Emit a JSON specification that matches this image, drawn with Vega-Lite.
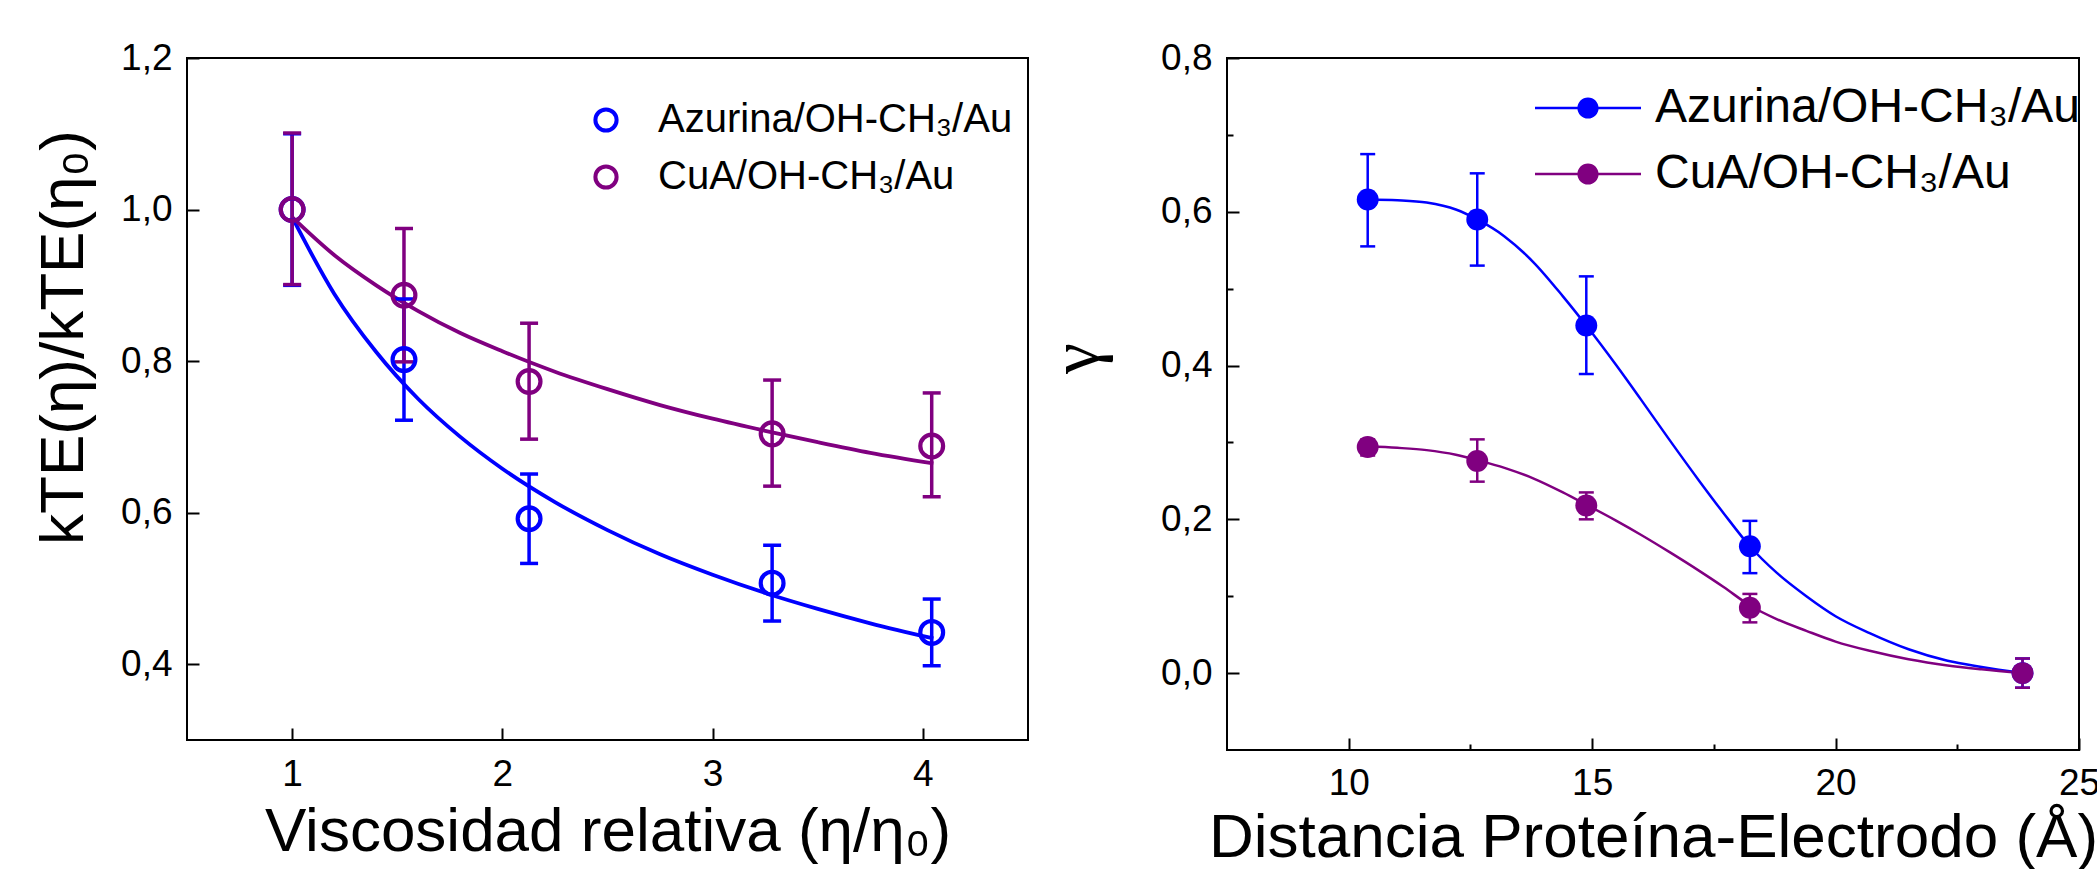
{
  "$schema": "https://vega.github.io/schema/vega-lite/v6.json",
  "background": "white",
  "padding": {"left": 30, "top": 38, "right": 0, "bottom": 0},
  "spacing": 11,
  "config": {
    "font": "Liberation Sans",
    "view": {"stroke": "black", "strokeWidth": 2},
    "axis": {
      "grid": false, "domain": false, "labelFont": "Liberation Sans", "titleFont": "Liberation Sans",
      "labelColor": "black", "titleColor": "black", "tickColor": "black", "tickWidth": 2,
      "labelFlush": false, "labelOverlap": false, "titleFontWeight": "normal", "labelFontSize": 37, "titleFontSize": 62
    },
    "legend": {"labelFont": "Liberation Sans", "labelColor": "black", "padding": 0, "labelLimit": 700, "title": null}
  },
  "resolve": {"scale": {"color": "independent"}, "legend": {"color": "independent"}},
  "datasets": {
    "ptsL": [
      {"serie": "Azurina/OH-CH₃/Au", "x": 1.0, "y": 1.0, "lo": 0.9, "hi": 1.1},
      {"serie": "Azurina/OH-CH₃/Au", "x": 1.532, "y": 0.802, "lo": 0.722, "hi": 0.882},
      {"serie": "Azurina/OH-CH₃/Au", "x": 2.127, "y": 0.592, "lo": 0.533, "hi": 0.651},
      {"serie": "Azurina/OH-CH₃/Au", "x": 3.283, "y": 0.507, "lo": 0.457, "hi": 0.557},
      {"serie": "Azurina/OH-CH₃/Au", "x": 4.042, "y": 0.442, "lo": 0.398, "hi": 0.486},
      {"serie": "CuA/OH-CH₃/Au", "x": 1.0, "y": 1.0, "lo": 0.901, "hi": 1.101},
      {"serie": "CuA/OH-CH₃/Au", "x": 1.532, "y": 0.887, "lo": 0.799, "hi": 0.975},
      {"serie": "CuA/OH-CH₃/Au", "x": 2.127, "y": 0.773, "lo": 0.697, "hi": 0.85},
      {"serie": "CuA/OH-CH₃/Au", "x": 3.283, "y": 0.704, "lo": 0.635, "hi": 0.775},
      {"serie": "CuA/OH-CH₃/Au", "x": 4.042, "y": 0.688, "lo": 0.621, "hi": 0.758}
    ],
    "fitL": [
      {"serie": "Azurina/OH-CH₃/Au", "x": 1.0, "y": 0.99},
      {"serie": "Azurina/OH-CH₃/Au", "x": 1.2, "y": 0.889},
      {"serie": "Azurina/OH-CH₃/Au", "x": 1.4, "y": 0.812},
      {"serie": "Azurina/OH-CH₃/Au", "x": 1.6, "y": 0.75},
      {"serie": "Azurina/OH-CH₃/Au", "x": 1.8, "y": 0.7},
      {"serie": "Azurina/OH-CH₃/Au", "x": 2.0, "y": 0.658},
      {"serie": "Azurina/OH-CH₃/Au", "x": 2.25, "y": 0.614},
      {"serie": "Azurina/OH-CH₃/Au", "x": 2.5, "y": 0.577},
      {"serie": "Azurina/OH-CH₃/Au", "x": 2.75, "y": 0.545},
      {"serie": "Azurina/OH-CH₃/Au", "x": 3.0, "y": 0.518},
      {"serie": "Azurina/OH-CH₃/Au", "x": 3.25, "y": 0.494},
      {"serie": "Azurina/OH-CH₃/Au", "x": 3.5, "y": 0.473},
      {"serie": "Azurina/OH-CH₃/Au", "x": 3.75, "y": 0.454},
      {"serie": "Azurina/OH-CH₃/Au", "x": 4.05, "y": 0.434},
      {"serie": "CuA/OH-CH₃/Au", "x": 1.0, "y": 0.99},
      {"serie": "CuA/OH-CH₃/Au", "x": 1.2, "y": 0.94},
      {"serie": "CuA/OH-CH₃/Au", "x": 1.4, "y": 0.9},
      {"serie": "CuA/OH-CH₃/Au", "x": 1.6, "y": 0.866},
      {"serie": "CuA/OH-CH₃/Au", "x": 1.8, "y": 0.837},
      {"serie": "CuA/OH-CH₃/Au", "x": 2.0, "y": 0.813},
      {"serie": "CuA/OH-CH₃/Au", "x": 2.25, "y": 0.786},
      {"serie": "CuA/OH-CH₃/Au", "x": 2.5, "y": 0.763},
      {"serie": "CuA/OH-CH₃/Au", "x": 2.75, "y": 0.742},
      {"serie": "CuA/OH-CH₃/Au", "x": 3.0, "y": 0.724},
      {"serie": "CuA/OH-CH₃/Au", "x": 3.25, "y": 0.708},
      {"serie": "CuA/OH-CH₃/Au", "x": 3.5, "y": 0.693},
      {"serie": "CuA/OH-CH₃/Au", "x": 3.75, "y": 0.679},
      {"serie": "CuA/OH-CH₃/Au", "x": 4.05, "y": 0.665}
    ],
    "ptsR": [
      {"serie": "Azurina/OH-CH₃/Au", "x": 10.39, "y": 0.616, "lo": 0.555, "hi": 0.675},
      {"serie": "Azurina/OH-CH₃/Au", "x": 12.64, "y": 0.59, "lo": 0.53, "hi": 0.65},
      {"serie": "Azurina/OH-CH₃/Au", "x": 14.88, "y": 0.452, "lo": 0.389, "hi": 0.516},
      {"serie": "Azurina/OH-CH₃/Au", "x": 18.24, "y": 0.165, "lo": 0.13, "hi": 0.198},
      {"serie": "Azurina/OH-CH₃/Au", "x": 23.84, "y": 0.0, "lo": -0.019, "hi": 0.019},
      {"serie": "CuA/OH-CH₃/Au", "x": 10.39, "y": 0.294, "lo": 0.283, "hi": 0.304},
      {"serie": "CuA/OH-CH₃/Au", "x": 12.64, "y": 0.276, "lo": 0.249, "hi": 0.304},
      {"serie": "CuA/OH-CH₃/Au", "x": 14.88, "y": 0.218, "lo": 0.2, "hi": 0.235},
      {"serie": "CuA/OH-CH₃/Au", "x": 18.24, "y": 0.085, "lo": 0.066, "hi": 0.103},
      {"serie": "CuA/OH-CH₃/Au", "x": 23.84, "y": 0.0, "lo": -0.019, "hi": 0.019}
    ],
    "fitR": [
      {"serie": "Azurina/OH-CH₃/Au", "x": 10.39, "y": 0.616},
      {"serie": "Azurina/OH-CH₃/Au", "x": 11.0, "y": 0.615},
      {"serie": "Azurina/OH-CH₃/Au", "x": 11.6, "y": 0.612},
      {"serie": "Azurina/OH-CH₃/Au", "x": 12.2, "y": 0.603},
      {"serie": "Azurina/OH-CH₃/Au", "x": 12.64, "y": 0.59},
      {"serie": "Azurina/OH-CH₃/Au", "x": 13.2, "y": 0.568},
      {"serie": "Azurina/OH-CH₃/Au", "x": 13.8, "y": 0.534},
      {"serie": "Azurina/OH-CH₃/Au", "x": 14.4, "y": 0.49},
      {"serie": "Azurina/OH-CH₃/Au", "x": 14.88, "y": 0.452},
      {"serie": "Azurina/OH-CH₃/Au", "x": 15.5, "y": 0.4},
      {"serie": "Azurina/OH-CH₃/Au", "x": 16.0, "y": 0.356},
      {"serie": "Azurina/OH-CH₃/Au", "x": 16.57, "y": 0.305},
      {"serie": "Azurina/OH-CH₃/Au", "x": 17.2, "y": 0.25},
      {"serie": "Azurina/OH-CH₃/Au", "x": 17.7, "y": 0.208},
      {"serie": "Azurina/OH-CH₃/Au", "x": 18.24, "y": 0.165},
      {"serie": "Azurina/OH-CH₃/Au", "x": 18.8, "y": 0.13},
      {"serie": "Azurina/OH-CH₃/Au", "x": 19.4, "y": 0.1},
      {"serie": "Azurina/OH-CH₃/Au", "x": 20.0, "y": 0.074},
      {"serie": "Azurina/OH-CH₃/Au", "x": 20.7, "y": 0.052},
      {"serie": "Azurina/OH-CH₃/Au", "x": 21.5, "y": 0.031},
      {"serie": "Azurina/OH-CH₃/Au", "x": 22.3, "y": 0.016},
      {"serie": "Azurina/OH-CH₃/Au", "x": 23.0, "y": 0.008},
      {"serie": "Azurina/OH-CH₃/Au", "x": 23.84, "y": 0.0},
      {"serie": "CuA/OH-CH₃/Au", "x": 10.39, "y": 0.295},
      {"serie": "CuA/OH-CH₃/Au", "x": 11.0, "y": 0.293},
      {"serie": "CuA/OH-CH₃/Au", "x": 11.6, "y": 0.29},
      {"serie": "CuA/OH-CH₃/Au", "x": 12.2, "y": 0.284},
      {"serie": "CuA/OH-CH₃/Au", "x": 12.64, "y": 0.277},
      {"serie": "CuA/OH-CH₃/Au", "x": 13.2, "y": 0.267},
      {"serie": "CuA/OH-CH₃/Au", "x": 13.8, "y": 0.253},
      {"serie": "CuA/OH-CH₃/Au", "x": 14.4, "y": 0.235},
      {"serie": "CuA/OH-CH₃/Au", "x": 14.88, "y": 0.219},
      {"serie": "CuA/OH-CH₃/Au", "x": 15.5, "y": 0.198},
      {"serie": "CuA/OH-CH₃/Au", "x": 16.0, "y": 0.18},
      {"serie": "CuA/OH-CH₃/Au", "x": 16.6, "y": 0.157},
      {"serie": "CuA/OH-CH₃/Au", "x": 17.2, "y": 0.133},
      {"serie": "CuA/OH-CH₃/Au", "x": 17.7, "y": 0.112},
      {"serie": "CuA/OH-CH₃/Au", "x": 18.24, "y": 0.088},
      {"serie": "CuA/OH-CH₃/Au", "x": 18.8, "y": 0.07},
      {"serie": "CuA/OH-CH₃/Au", "x": 19.4, "y": 0.055},
      {"serie": "CuA/OH-CH₃/Au", "x": 20.0, "y": 0.041},
      {"serie": "CuA/OH-CH₃/Au", "x": 20.7, "y": 0.029},
      {"serie": "CuA/OH-CH₃/Au", "x": 21.5, "y": 0.018},
      {"serie": "CuA/OH-CH₃/Au", "x": 22.3, "y": 0.01},
      {"serie": "CuA/OH-CH₃/Au", "x": 23.0, "y": 0.005},
      {"serie": "CuA/OH-CH₃/Au", "x": 23.84, "y": 0.0}
    ]
  },
  "hconcat": [
    {
      "width": 841,
      "height": 682,
      "resolve": {"axis": {"x": "independent", "y": "independent"}, "legend": {"color": "independent"}},
      "layer": [
        {
          "data": {"name": "fitL"},
          "mark": {"type": "line", "strokeWidth": 3.8, "interpolate": "monotone"},
          "encoding": {
            "x": {"field": "x", "type": "quantitative", "scale": {"domain": [0.5, 4.5], "nice": false, "zero": false},
              "axis": {"values": [1, 2, 3, 4], "tickSize": -12, "labelPadding": 28, "title": "Viscosidad relativa (η/η₀)", "titlePadding": 9}},
            "y": {"field": "y", "type": "quantitative", "scale": {"domain": [0.3, 1.2], "nice": false, "zero": false},
              "axis": {"values": [0.4, 0.6, 0.8, 1.0, 1.2], "labelExpr": "replace(format(datum.value, '.1f'), '.', ',')", "tickSize": -12, "labelPadding": 27, "title": "kTE(η)/kTE(η₀)", "titleX": -92, "titleY": 279}},
            "color": {"field": "serie", "type": "nominal", "scale": {"domain": ["Azurina/OH-CH₃/Au", "CuA/OH-CH₃/Au"], "range": ["#0000ff", "#800080"]}, "legend": null},
            "detail": {"field": "serie"}
          }
        },
        {
          "data": {"name": "ptsL"},
          "mark": {"type": "rule", "strokeWidth": 3.5},
          "encoding": {
            "x": {"field": "x", "type": "quantitative", "scale": {"domain": [0.5, 4.5], "nice": false, "zero": false}, "axis": null},
            "y": {"field": "lo", "type": "quantitative", "scale": {"domain": [0.3, 1.2], "nice": false, "zero": false}, "axis": null},
            "y2": {"field": "hi"},
            "color": {"field": "serie", "type": "nominal", "legend": null}
          }
        },
        {
          "data": {"name": "ptsL"},
          "mark": {"type": "tick", "orient": "horizontal", "size": 18, "thickness": 3.5, "opacity": 1},
          "encoding": {
            "x": {"field": "x", "type": "quantitative", "scale": {"domain": [0.5, 4.5], "nice": false, "zero": false}, "axis": null},
            "y": {"field": "lo", "type": "quantitative", "scale": {"domain": [0.3, 1.2], "nice": false, "zero": false}, "axis": null},
            "color": {"field": "serie", "type": "nominal", "legend": null}
          }
        },
        {
          "data": {"name": "ptsL"},
          "mark": {"type": "tick", "orient": "horizontal", "size": 18, "thickness": 3.5, "opacity": 1},
          "encoding": {
            "x": {"field": "x", "type": "quantitative", "scale": {"domain": [0.5, 4.5], "nice": false, "zero": false}, "axis": null},
            "y": {"field": "hi", "type": "quantitative", "scale": {"domain": [0.3, 1.2], "nice": false, "zero": false}, "axis": null},
            "color": {"field": "serie", "type": "nominal", "legend": null}
          }
        },
        {
          "data": {"name": "ptsL"},
          "mark": {"type": "point", "shape": "circle", "filled": false, "size": 520, "strokeWidth": 4.2, "opacity": 1},
          "encoding": {
            "x": {"field": "x", "type": "quantitative", "scale": {"domain": [0.5, 4.5], "nice": false, "zero": false}, "axis": null},
            "y": {"field": "y", "type": "quantitative", "scale": {"domain": [0.3, 1.2], "nice": false, "zero": false}, "axis": null},
            "color": {"field": "serie", "type": "nominal",
              "legend": {"orient": "none", "legendX": 399, "legendY": 42, "labelFontSize": 40, "symbolType": "circle", "symbolSize": 450, "symbolStrokeWidth": 4, "labelOffset": 32, "rowPadding": 17}}
          }
        }
      ]
    },
    {
      "width": 852,
      "height": 692,
      "resolve": {"axis": {"x": "independent", "y": "independent"}, "legend": {"color": "independent"}},
      "layer": [
        {
          "data": {"name": "fitR"},
          "mark": {"type": "line", "strokeWidth": 2.5, "interpolate": "monotone"},
          "encoding": {
            "x": {"field": "x", "type": "quantitative", "scale": {"domain": [7.5, 25], "nice": false, "zero": false},
              "axis": {"values": [10, 12.5, 15, 17.5, 20, 22.5, 25], "labelExpr": "datum.value % 5 == 0 ? format(datum.value, 'd') : ''",
                "tickSize": {"condition": {"test": "datum.value % 5 != 0", "value": -6}, "value": -12}, "labelPadding": 27,
                "title": "Distancia Proteína-Electrodo (Å)", "titlePadding": 0}},
            "y": {"field": "y", "type": "quantitative", "scale": {"domain": [-0.1, 0.8], "nice": false, "zero": false},
              "axis": {"values": [0, 0.1, 0.2, 0.3, 0.4, 0.5, 0.6, 0.7, 0.8],
                "labelExpr": "round(datum.value * 10) % 2 == 0 ? replace(format(datum.value, '.1f'), '.', ',') : ''",
                "tickSize": {"condition": {"test": "round(datum.value * 10) % 2 != 0", "value": -6}, "value": -12}, "labelPadding": 27,
                "title": "γ", "titleFont": "Liberation Serif", "titleFontSize": 70, "titleX": -115, "titleY": 300}},
            "color": {"field": "serie", "type": "nominal", "scale": {"domain": ["Azurina/OH-CH₃/Au", "CuA/OH-CH₃/Au"], "range": ["#0000ff", "#800080"]}, "legend": null},
            "detail": {"field": "serie"}
          }
        },
        {
          "data": {"name": "ptsR"},
          "mark": {"type": "rule", "strokeWidth": 2.5},
          "encoding": {
            "x": {"field": "x", "type": "quantitative", "scale": {"domain": [7.5, 25], "nice": false, "zero": false}, "axis": null},
            "y": {"field": "lo", "type": "quantitative", "scale": {"domain": [-0.1, 0.8], "nice": false, "zero": false}, "axis": null},
            "y2": {"field": "hi"},
            "color": {"field": "serie", "type": "nominal", "legend": null}
          }
        },
        {
          "data": {"name": "ptsR"},
          "mark": {"type": "tick", "orient": "horizontal", "size": 15, "thickness": 2.5, "opacity": 1},
          "encoding": {
            "x": {"field": "x", "type": "quantitative", "scale": {"domain": [7.5, 25], "nice": false, "zero": false}, "axis": null},
            "y": {"field": "lo", "type": "quantitative", "scale": {"domain": [-0.1, 0.8], "nice": false, "zero": false}, "axis": null},
            "color": {"field": "serie", "type": "nominal", "legend": null}
          }
        },
        {
          "data": {"name": "ptsR"},
          "mark": {"type": "tick", "orient": "horizontal", "size": 15, "thickness": 2.5, "opacity": 1},
          "encoding": {
            "x": {"field": "x", "type": "quantitative", "scale": {"domain": [7.5, 25], "nice": false, "zero": false}, "axis": null},
            "y": {"field": "hi", "type": "quantitative", "scale": {"domain": [-0.1, 0.8], "nice": false, "zero": false}, "axis": null},
            "color": {"field": "serie", "type": "nominal", "legend": null}
          }
        },
        {
          "data": {"name": "ptsR"},
          "mark": {"type": "point", "shape": "circle", "filled": true, "size": 480, "opacity": 1, "strokeWidth": 0},
          "encoding": {
            "x": {"field": "x", "type": "quantitative", "scale": {"domain": [7.5, 25], "nice": false, "zero": false}, "axis": null},
            "y": {"field": "y", "type": "quantitative", "scale": {"domain": [-0.1, 0.8], "nice": false, "zero": false}, "axis": null},
            "color": {"field": "serie", "type": "nominal",
              "legend": {"orient": "none", "legendX": 308, "legendY": 26, "labelFontSize": 48,
                "symbolType": "M-1,-0.025L1,-0.025L1,0.025L-1,0.025ZM0.2,0A0.2,0.2,0,1,1,-0.2,0A0.2,0.2,0,1,1,0.2,0Z",
                "symbolSize": 11236, "symbolStrokeWidth": 0, "labelOffset": 14, "rowPadding": 18, "clipHeight": 48}}
          }
        }
      ]
    }
  ]
}
